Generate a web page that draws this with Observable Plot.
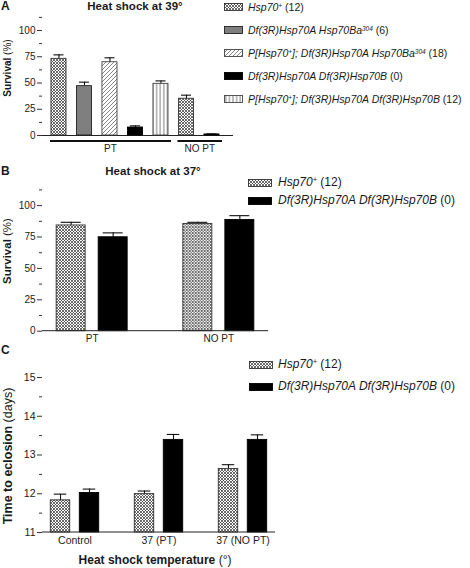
<!DOCTYPE html>
<html>
<head>
<meta charset="utf-8">
<script src="https://cdn.jsdelivr.net/npm/d3@7"></script>
<script src="https://cdn.jsdelivr.net/npm/@observablehq/plot@0.6"></script>
<style>
  body { margin: 0; background: #fff; }
  #root { position: relative; width: 470px; height: 568px; overflow: hidden; background: #fff;
          font-family: "Liberation Sans", Arial, Helvetica, sans-serif; color: #1a1a1a; }
  .panel { position: absolute; left: 0; }
  .panel svg { background: transparent !important; max-width: none !important; }
  .lbl { position: absolute; white-space: nowrap; line-height: 1.15; }
  .lbl sup { font-size: 0.62em; vertical-align: 0.5em; line-height: 0; }
  .sw { position: absolute; }
</style>
</head>
<body>
<svg width="0" height="0" style="position:absolute">
  <defs>
    <pattern id="pCross" patternUnits="userSpaceOnUse" width="3" height="3">
      <rect width="3" height="3" fill="#fff"/>
      <path d="M0,0L3,3M3,0L0,3" stroke="#3a3a3a" stroke-width="0.75"/>
    </pattern>
    <pattern id="pDiag" patternUnits="userSpaceOnUse" width="4" height="4">
      <rect width="4" height="4" fill="#fff"/>
      <path d="M0,4L4,0M-1,1L1,-1M3,5L5,3" stroke="#666" stroke-width="0.8"/>
    </pattern>
    <pattern id="pVert" patternUnits="userSpaceOnUse" width="3.6" height="4">
      <rect width="3.6" height="4" fill="#fff"/>
      <path d="M1.8,0L1.8,4" stroke="#555" stroke-width="0.8"/>
    </pattern>
  </defs>
</svg>
<div id="root"></div>
<script>
// ---------------- DATA ----------------
// genotypes (shared)
const genotypeKeys = ["wt", "ba", "pba", "dfdf", "pdfdf"];
const genotypeLabels = [
  '<i>Hsp70<sup>+</sup></i> (12)',
  '<i>Df(3R)Hsp70A Hsp70Ba<sup>304</sup></i> (6)',
  '<i>P[Hsp70<sup>+</sup>]; Df(3R)Hsp70A Hsp70Ba<sup>304</sup></i> (18)',
  '<i>Df(3R)Hsp70A Df(3R)Hsp70B</i> (0)',
  '<i>P[Hsp70<sup>+</sup>]; Df(3R)Hsp70A Df(3R)Hsp70B</i> (12)'
];

// Panel A: heat shock at 39°
const groupsA = ["PT", "NO PT"];
const barGroupA = ["PT", "PT", "PT", "PT", "PT", "NO PT", "NO PT"];
const barGenotypeA = ["wt", "ba", "pba", "dfdf", "pdfdf", "wt", "dfdf"];
const survivalA = [73, 47, 69.8, 7.6, 49.2, 35, 1];
const errorA = [3.8, 3.8, 4.2, 1.6, 2.8, 3.4, 0.5];
const yDomainA = [0, 120];
const yTicksA = [0, 25, 50, 75, 100];
const yMinorA = [12.5, 37.5, 62.5, 87.5, 112.5];

// Panel B: heat shock at 37°
const groupsB = ["PT", "NO PT"];
const genotypesB = ["wt", "dfdf"];
const survivalB_wt = [84.2, 85.4];
const errorB_wt = [2.5, 1.3];
const survivalB_df = [74.8, 88.6];
const errorB_df = [3.5, 3.4];
const yDomainB = [0, 120];
const yTicksB = [0, 25, 50, 75, 100];
const yMinorB = [12.5, 37.5, 62.5, 87.5, 112.5];

// Panel C: time to eclosion
const groupsC = ["Control", "37 (PT)", "37 (NO PT)"];
const genotypesC = ["wt", "dfdf"];
const eclosionC_wt = [11.83, 11.99, 12.64];
const errorC_wt = [0.16, 0.08, 0.11];
const eclosionC_df = [12.02, 13.39, 13.39];
const errorC_df = [0.10, 0.14, 0.13];
const yDomainC = [11, 15];
const yTicksC = [11, 12, 13, 14, 15];
const yMinorC = [11.5, 12.5, 13.5, 14.5];

// ---------------- STYLE ----------------
const FONT = '"Liberation Sans", Arial, Helvetica, sans-serif';
const genotypeFills = ["url(#pCross)", "#7f7f7f", "url(#pDiag)", "#000", "url(#pVert)"];
const genotypeStrokes = ["#333", "#222", "#444", "#000", "#444"];
const strokeOf = g => genotypeStrokes[genotypeKeys.indexOf(g)];

const root = document.getElementById("root");

function panel(el, top) {
  const d = document.createElement("div");
  d.className = "panel";
  d.style.top = top + "px";
  d.appendChild(el);
  root.appendChild(d);
}
function label(html, x, y, css, anchor) {
  const d = document.createElement("div");
  d.className = "lbl";
  d.innerHTML = html;
  d.style.left = x + "px";
  d.style.top = y + "px";
  d.style.transform = anchor === "center" ? "translate(-50%,-50%)"
    : anchor === "rot" ? "translate(-50%,-50%) rotate(-90deg)"
    : "translate(0,-50%)";
  Object.assign(d.style, css || {});
  root.appendChild(d);
}
function swatch(key, x, y, w, h) {
  const i = genotypeKeys.indexOf(key);
  const d = document.createElement("div");
  d.className = "sw";
  d.style.left = x + "px";
  d.style.top = (y - h / 2) + "px";
  d.innerHTML = `<svg width="${w}" height="${h}" style="display:block"><rect x="0.5" y="0.5" width="${w - 1}" height="${h - 1}" fill="${genotypeFills[i]}" stroke="${genotypeStrokes[i]}" stroke-width="0.9"/></svg>`;
  root.appendChild(d);
}
function yAxes(minor, major, fs) {
  return [
    Plot.axisY(minor, {tickSize: 3, tickFormat: () => "", label: null, stroke: "#333"}),
    Plot.axisY(major, {tickSize: 5, tickPadding: 2, label: null, line: true, stroke: "#333", fontSize: fs, fill: "#222"})
  ];
}
function errorMarks(rows, extra, inset) {
  return [
    Plot.ruleX(rows, {...extra, y1: "value", y2: d => d.value + d.err, stroke: "#111", strokeWidth: 1.1}),
    Plot.tickY(rows, {...extra, y: d => d.value + d.err, insetLeft: inset, insetRight: inset, stroke: "#111", strokeWidth: 1.1})
  ];
}
function baseline(plot, x1, x2, yv) {
  const sy = plot.scale("y");
  d3.select(plot).append("line")
    .attr("x1", x1).attr("x2", x2)
    .attr("y1", sy.apply(yv)).attr("y2", sy.apply(yv))
    .attr("stroke", "#222").attr("stroke-width", 1);
}

// ---------------- PANEL A ----------------
const rowsA = survivalA.map((v, i) => ({
  id: barGroupA[i] + ":" + barGenotypeA[i], group: barGroupA[i], genotype: barGenotypeA[i], value: v, err: errorA[i]
}));
const plotA = Plot.plot({
  width: 470, height: 160,
  marginLeft: 42, marginRight: 237, marginTop: 9, marginBottom: 25,
  style: {fontFamily: FONT, fontSize: "10px", background: "transparent", color: "#222"},
  x: {domain: rowsA.map(d => d.id), paddingInner: 0.41, paddingOuter: 0.45, align: 0.39, round: false, axis: null},
  y: {domain: yDomainA},
  color: {domain: genotypeKeys, range: genotypeFills},
  marks: [
    ...yAxes(yMinorA, yTicksA, 10),
    Plot.ruleY([yDomainA[0]], {stroke: "#222"}),
    ...errorMarks(rowsA, {x: "id"}, 2.5),
    Plot.barY(rowsA, {x: "id", y: "value", fill: "genotype", stroke: d => strokeOf(d.genotype), strokeWidth: 0.9})
  ]
});
{
  const sx = plotA.scale("x"), sy = plotA.scale("y");
  const svg = d3.select(plotA);
  groupsA.forEach(g => {
    const ids = rowsA.filter(d => d.group === g).map(d => d.id);
    const x1 = sx.apply(ids[0]) - 1;
    const x2 = sx.apply(ids[ids.length - 1]) + sx.bandwidth + 3;
    const yl = sy.apply(yDomainA[0]) + 6;
    svg.append("line").attr("x1", x1).attr("x2", x2).attr("y1", yl).attr("y2", yl)
      .attr("stroke", "#111").attr("stroke-width", 2);
    svg.append("text").attr("x", (x1 + x2) / 2).attr("y", yl + 4).attr("dy", "0.71em")
      .attr("text-anchor", "middle").attr("fill", "#222").attr("font-size", 10).text(g);
  });
}
panel(plotA, 0);

// ---------------- PANEL B ----------------
const rowsB = [];
groupsB.forEach((g, i) => {
  rowsB.push({group: g, genotype: "wt", value: survivalB_wt[i], err: errorB_wt[i]});
  rowsB.push({group: g, genotype: "dfdf", value: survivalB_df[i], err: errorB_df[i]});
});
const plotB = Plot.plot({
  width: 470, height: 180,
  marginLeft: 42, marginRight: 202, marginTop: 10, marginBottom: 19.3,
  style: {fontFamily: FONT, fontSize: "10px", background: "transparent", color: "#222"},
  fx: {domain: groupsB, paddingInner: 0.216, paddingOuter: 0, round: false},
  x: {domain: genotypesB, paddingInner: 0.31, paddingOuter: 0.337, round: false, axis: null},
  y: {domain: yDomainB},
  color: {domain: genotypeKeys, range: genotypeFills},
  marks: [
    ...yAxes(yMinorB, yTicksB, 10),
    Plot.axisFx({anchor: "bottom", tickSize: 0, tickPadding: 4, label: null, fontSize: 10, fill: "#222"}),
    ...errorMarks(rowsB, {fx: "group", x: "genotype"}, 4.5),
    Plot.barY(rowsB, {fx: "group", x: "genotype", y: "value", fill: "genotype", stroke: d => strokeOf(d.genotype), strokeWidth: 0.9})
  ]
});
baseline(plotB, 42, 268, yDomainB[0]);
panel(plotB, 170);

// ---------------- PANEL C ----------------
const rowsC = [];
groupsC.forEach((g, i) => {
  rowsC.push({group: g, genotype: "wt", value: eclosionC_wt[i], err: errorC_wt[i]});
  rowsC.push({group: g, genotype: "dfdf", value: eclosionC_df[i], err: errorC_df[i]});
});
const plotC = Plot.plot({
  width: 470, height: 218,
  marginLeft: 42, marginRight: 195, marginTop: 27, marginBottom: 36,
  style: {fontFamily: FONT, fontSize: "10.5px", background: "transparent", color: "#222"},
  fx: {domain: groupsC, paddingInner: 0.226, paddingOuter: 0, round: false},
  x: {domain: genotypesC, paddingInner: 0.33, paddingOuter: 0.286, round: false, axis: null},
  y: {domain: yDomainC},
  color: {domain: genotypeKeys, range: genotypeFills},
  marks: [
    ...yAxes(yMinorC, yTicksC, 10.5),
    Plot.axisFx({anchor: "bottom", tickSize: 0, tickPadding: 4, label: null, fontSize: 10.5, fill: "#222"}),
    ...errorMarks(rowsC, {fx: "group", x: "genotype"}, 3.5),
    Plot.barY(rowsC, {fx: "group", x: "genotype", y1: yDomainC[0], y2: "value", fill: "genotype", stroke: d => strokeOf(d.genotype), strokeWidth: 0.9})
  ]
});
baseline(plotC, 42, 275, yDomainC[0]);
panel(plotC, 350);

// ---------------- TEXT: panel letters, titles, axis titles ----------------
label("A", 1, 7, {fontWeight: "bold", fontSize: "12px"});
label("B", 1, 172, {fontWeight: "bold", fontSize: "12px"});
label("C", 1, 351, {fontWeight: "bold", fontSize: "12px"});
label("Heat shock at 39°", 135, 7, {fontWeight: "bold", fontSize: "11.5px"}, "center");
label("Heat shock at 37°", 153, 172, {fontWeight: "bold", fontSize: "11.5px"}, "center");
label('<b>Survival</b> (%)', 8, 68, {fontSize: "10px"}, "rot");
label('<b>Survival</b> (%)', 8, 251, {fontSize: "11.5px"}, "rot");
label('<b>Time to eclosion</b> (days)', 8, 456, {fontSize: "12.5px"}, "rot");
label('<b>Heat shock temperature</b> (°)', 155, 561, {fontSize: "12px"}, "center");

// ---------------- LEGENDS ----------------
const legendRowsA = [7, 30, 53, 76, 99];
genotypeKeys.forEach((k, i) => {
  swatch(k, 224, legendRowsA[i], 19, 8);
  label(genotypeLabels[i], 248, legendRowsA[i], {fontSize: "10.5px"});
});
const legendRowsB = [183, 201];
genotypesB.forEach((k, i) => {
  swatch(k, 248, legendRowsB[i], 24, 8);
  label(genotypeLabels[genotypeKeys.indexOf(k)], 278, legendRowsB[i], {fontSize: "12px"});
});
const legendRowsC = [365, 386.5];
genotypesC.forEach((k, i) => {
  swatch(k, 249, legendRowsC[i], 24, 8);
  label(genotypeLabels[genotypeKeys.indexOf(k)], 278, legendRowsC[i], {fontSize: "12px"});
});
</script>
</body>
</html>
